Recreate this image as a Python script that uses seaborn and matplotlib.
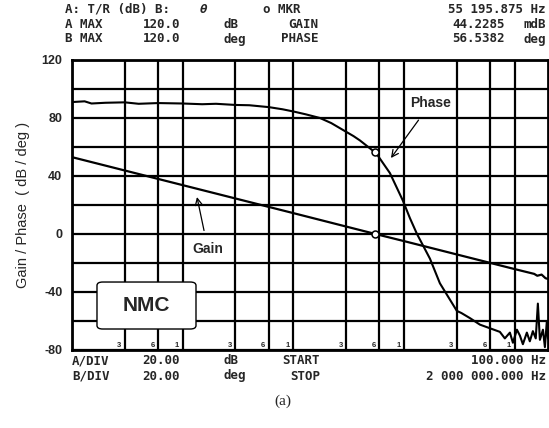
import numpy as np
import pandas as pd
import matplotlib
matplotlib.use("Agg")
import matplotlib.pyplot as plt
import seaborn as sns
from matplotlib.patches import FancyBboxPatch

# ---- data ----
gain_freq = [100, 1000, 10000, 55196, 100000, 1000000, 1500000, 1600000,
             1750000, 1900000, 2000000]
gain_db = [53.0, 33.7, 14.4, 0.0, -4.9, -24.2, -27.5, -28.8, -28.0, -30.5, -31.0]

phase_freq = [100, 130, 150, 200, 300, 400, 600, 1000, 1500, 2000, 3000, 4000,
              6000, 8000, 10000, 13000, 17400, 22000, 29200, 35000, 40000,
              51300, 55196, 59300, 74600, 97700, 113000, 131000, 171500,
              211000, 300000, 330000, 394000, 485000, 597000, 735000, 815000,
              905000, 964000, 1047000, 1114000, 1186000, 1288000, 1370000,
              1460000, 1550000, 1620000, 1690000, 1800000, 1875000, 1953000,
              2000000]
phase_deg = [91.0, 91.5, 90.0, 90.5, 90.8, 89.8, 90.3, 90.0, 89.5, 89.8, 89.0,
             88.8, 87.5, 86.0, 84.5, 82.5, 80.0, 76.5, 71.0, 67.5, 64.5,
             58.0, 56.5, 53.0, 42.0, 23.0, 11.0, 0.0, -17.0,
             -34.0, -53.0, -54.5, -58.0, -62.5, -65.0, -67.5, -72.0,
             -68.0, -75.0, -66.0, -70.0, -76.0, -68.0, -74.0,
             -67.0, -72.0, -48.0, -73.0, -66.0, -78.0, -60.0,
             -72.0]

marker_freq = 55196
marker_gain = 0.04
marker_phase = 56.5

x_grid = [100, 300, 600, 1000, 3000, 6000, 10000, 30000, 60000, 100000,
          300000, 600000, 1000000]
y_grid = list(range(-80, 121, 20))
y_labels = ["-80", "", "-40", "", "0", "", "40", "", "80", "", "120"]

# ---- figure ----
sns.set_style("white")
plt.rcParams['font.family'] = ['Liberation Sans', 'DejaVu Sans']

W, H = 549, 428
fig = plt.figure(figsize=(W / 100, H / 100), dpi=100)
L, R, T, B = 72, 548, 60, 350
ax = fig.add_axes([L / W, 1 - B / H, (R - L) / W, (B - T) / H])

gain_df = pd.DataFrame({"f": gain_freq, "v": gain_db})
phase_df = pd.DataFrame({"f": phase_freq, "v": phase_deg})

ax.set_xscale("log")
sns.lineplot(data=gain_df, x="f", y="v", color="black", lw=1.6, ax=ax, zorder=3)
sns.lineplot(data=phase_df, x="f", y="v", color="black", lw=1.5, ax=ax, zorder=3)
ax.plot([marker_freq], [marker_phase], 'o', mfc='white', mec='black', ms=5, mew=1.1, zorder=4)
ax.plot([marker_freq], [marker_gain], 'o', mfc='white', mec='black', ms=5, mew=1.1, zorder=4)

ax.set_xlim(100, 2000000)
ax.set_ylim(-80, 120)
ax.set_xticks(x_grid)
ax.set_xticks([], minor=True)
ax.set_xticklabels([])
ax.set_yticks(y_grid)
ax.set_yticklabels(y_labels, fontsize=9, fontweight='bold')
ax.tick_params(axis='both', length=0, pad=7)
ax.grid(True, color='black', lw=1.6, zorder=1)
ax.set_axisbelow(True)
for s in ax.spines.values():
    s.set_color('black')
    s.set_linewidth(2)
ax.set_xlabel("")
ax.set_ylabel("Gain / Phase  ( dB / deg )", fontsize=10.5, labelpad=8)

# small decade marks along the bottom
for dec in [100, 1000, 10000, 100000]:
    for m, lab in [(3, "3"), (6, "6"), (10, "1")]:
        ax.text(dec * m * 0.93, -79, lab, fontsize=5.5, fontweight='bold',
                ha='right', va='bottom', zorder=2)

# annotations
ax.annotate("Phase", xy=(76200, 52.4), xytext=(175000, 90.3),
            fontsize=10, fontweight='bold', ha='center', va='center',
            arrowprops=dict(arrowstyle='->', color='black', lw=0.9,
                            shrinkA=6, shrinkB=0, mutation_scale=12), zorder=5)
ax.annotate("Gain", xy=(1347, 25.5), xytext=(1690, -10.3),
            fontsize=10, fontweight='bold', ha='center', va='center',
            arrowprops=dict(arrowstyle='->', color='black', lw=0.9,
                            shrinkA=6, shrinkB=0, mutation_scale=12), zorder=5)

box = FancyBboxPatch((0.0525, 0.0724), 0.208, 0.162,
                     boxstyle="round,pad=0,rounding_size=0.012",
                     transform=ax.transAxes, facecolor='white',
                     edgecolor='black', lw=1.0, zorder=6)
ax.add_patch(box)
ax.text(0.0525 + 0.104, 0.0724 + 0.081, "NMC", transform=ax.transAxes,
        fontsize=15, fontweight='bold', ha='center', va='center', zorder=7)

# header / footer instrument text
mono = dict(family='DejaVu Sans Mono', fontweight='bold', fontsize=9, va='center')

def put(x, y, s, ha='left', **kw):
    d = dict(mono)
    d.update(kw)
    fig.text(x / W, 1 - y / H, s, ha=ha, **d)

r1, r2, r3 = 9.5, 24.3, 39
put(65, r1, "A: T/R (dB) B:")
put(200, r1, "θ", style='italic')
put(263, r1, "o MKR")
put(546, r1, "55 195.875 Hz", ha='right')
put(65, r2, "A MAX")
put(180, r2, "120.0", ha='right')
put(223, r2, "dB")
put(318, r2, "GAIN", ha='right')
put(505, r2, "44.2285", ha='right')
put(546, r2, "mdB", ha='right')
put(65, r3, "B MAX")
put(180, r3, "120.0", ha='right')
put(223, r3, "deg")
put(318, r3, "PHASE", ha='right')
put(505, r3, "56.5382", ha='right')
put(546, r3, "deg", ha='right')

f1, f2 = 361, 376
put(72, f1, "A/DIV")
put(180, f1, "20.00", ha='right')
put(223, f1, "dB")
put(320, f1, "START", ha='right')
put(546, f1, "100.000 Hz", ha='right')
put(72, f2, "B/DIV")
put(180, f2, "20.00", ha='right')
put(223, f2, "deg")
put(320, f2, "STOP", ha='right')
put(546, f2, "2 000 000.000 Hz", ha='right')

fig.text(283 / W, 1 - 401 / H, "(a)", ha='center', va='center',
         family='Liberation Serif', fontsize=11)

fig.savefig("out.png", dpi=100)
